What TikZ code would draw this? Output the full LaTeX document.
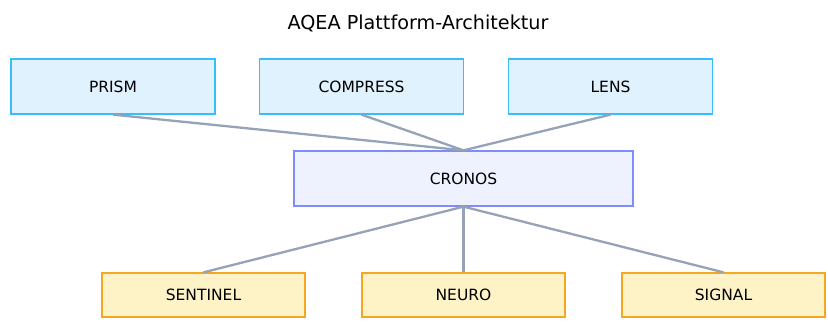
\documentclass[tikz,border=0pt]{standalone}
\usepackage{fontspec}
\setmainfont{DejaVu Sans}
\definecolor{topfill}{HTML}{E0F2FE}
\definecolor{topdraw}{HTML}{38BDF8}
\definecolor{midfill}{HTML}{EEF2FF}
\definecolor{middraw}{HTML}{818CF8}
\definecolor{botfill}{HTML}{FEF3C7}
\definecolor{botdraw}{HTML}{F5A623}
\definecolor{linkcol}{HTML}{94A3B8}
\tikzset{
  box/.style={rectangle, line width=1.3pt, inner sep=0pt, font=\fontsize{15.5}{18}\selectfont, text=black},
  topbox/.style={box, fill=topfill, draw=topdraw, minimum width=204pt, minimum height=55pt},
  midbox/.style={box, fill=midfill, draw=middraw, minimum width=339pt, minimum height=55pt},
  botbox/.style={box, fill=botfill, draw=botdraw, minimum width=203pt, minimum height=44pt},
  link/.style={draw=linkcol, line width=2.3pt},
}
\begin{document}
\begin{tikzpicture}[x=1pt,y=-1pt]
\useasboundingbox (0,0) rectangle (828,323);
\node[font=\fontsize{19.2}{23}\selectfont] (title) at (418,23) {AQEA Plattform-Architektur};
\node[topbox] (prism) at (113,86.5) {PRISM};
\node[topbox] (compress) at (361.5,86.5) {COMPRESS};
\node[topbox] (lens) at (610.5,86.5) {LENS};
\node[midbox] (cronos) at (463.5,178.5) {CRONOS};
\node[botbox] (sentinel) at (203.5,295) {SENTINEL};
\node[botbox] (neuro) at (463.5,295) {NEURO};
\node[botbox] (signal) at (723.5,295) {SIGNAL};
\draw[link] (prism.south) -- (cronos.north);
\draw[link] (compress.south) -- (cronos.north);
\draw[link] (lens.south) -- (cronos.north);
\draw[link] (cronos.south) -- (sentinel.north);
\draw[link] (cronos.south) -- (neuro.north);
\draw[link] (cronos.south) -- (signal.north);
\end{tikzpicture}
\end{document}
